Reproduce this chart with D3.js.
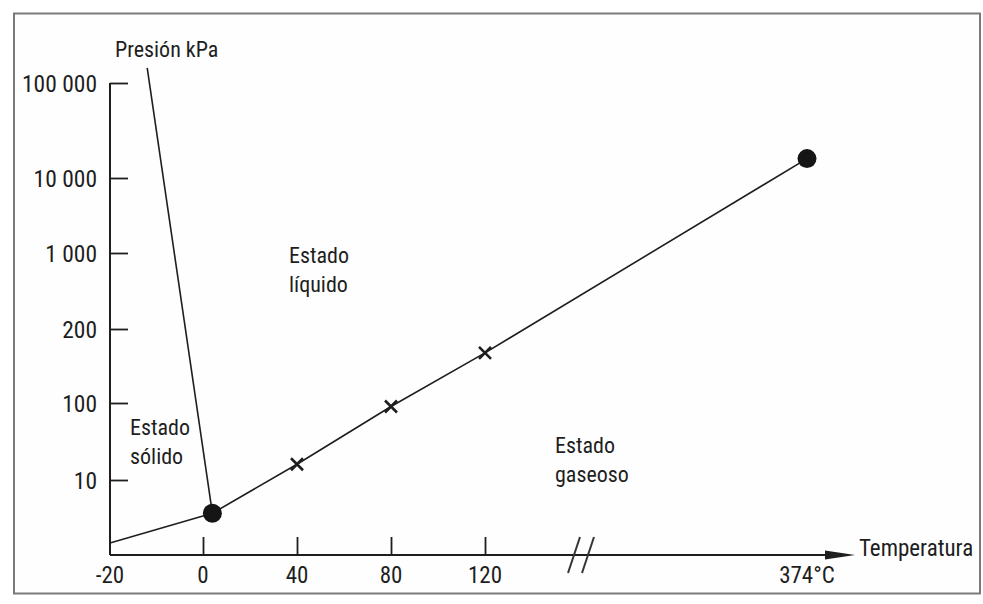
<!DOCTYPE html>
<html>
<head>
<meta charset="utf-8">
<script src="https://cdn.jsdelivr.net/npm/d3@7"></script>
<style>
  html, body { margin: 0; padding: 0; background: #fff; }
  svg { display: block; }
  text { font-family: "Liberation Sans Narrow", "Arial Narrow", "Roboto Condensed", "Open Sans", sans-serif; fill: #1e1e1e; }
</style>
</head>
<body>
<svg id="chart" width="983" height="604"></svg>
<script>
// ---- data ----
const xTicks = [-20, 0, 40, 80, 120, 374];
const xTickLabels = ["-20", "0", "40", "80", "120", "374°C"];
const yTicks = [10, 100, 200, 1000, 10000, 100000];
const yTickLabels = ["10", "100", "200", "1 000", "10 000", "100 000"];

// sublimation curve (solid–gas)
const sublimationT = [-20, 4];
const sublimationP = [1.45, 3.6];
// fusion curve (solid–liquid)
const fusionT = [-12, 4];
const fusionP = [144000, 3.6];
// vaporization curve (liquid–gas)
const vaporT = [4, 40, 80, 120, 374];
const vaporP = [3.6, 16, 90, 160, 16000];
// measured points (crosses)
const crossT = [40, 80, 120];
const crossP = [16, 90, 160];
// special points (triple point, critical point)
const dotT = [4, 374];
const dotP = [3.6, 16000];

const regionLabels = [
  ["Estado", "líquido"],
  ["Estado", "sólido"],
  ["Estado", "gaseoso"]
];

// ---- scales (broken, non-uniform axes as in the original) ----
const x = d3.scaleLinear()
  .domain([-20, 0, 40, 80, 120, 374])
  .range([110, 203, 297, 391, 485, 807]);
const yLog = d3.scaleLinear()
  .domain([0, 1, 2, Math.log10(200), 3, 4, 5])
  .range([555, 480, 403, 329, 253, 178, 83]);
const y = p => yLog(Math.log10(p));

const svg = d3.select("#chart");
const ink = "#1e1e1e";

// frame
svg.append("rect")
  .attr("x", 14).attr("y", 13.5).attr("width", 966).attr("height", 580)
  .attr("fill", "#fefefe").attr("stroke", "#7a7a7a").attr("stroke-width", 2);

// ---- axes ----
const x0 = x(-20), yBase = yLog(0), yTop = y(100000);

// y axis
const yAxis = d3.axisRight(yLog)
  .tickValues(yTicks.map(v => Math.log10(v)))
  .tickFormat((d, i) => yTickLabels[i])
  .tickSize(18)
  .tickSizeOuter(0);
const gy = svg.append("g").attr("transform", `translate(${x0},0)`).call(yAxis);
gy.select(".domain").remove();
gy.selectAll(".tick line").attr("stroke", ink).attr("stroke-width", 1.8);
gy.selectAll(".tick text")
  .attr("x", -13).attr("text-anchor", "end").attr("dy", "0.35em")
  .style("font-size", "23.5px");
svg.append("line")
  .attr("x1", x0).attr("x2", x0).attr("y1", yTop).attr("y2", yBase)
  .attr("stroke", ink).attr("stroke-width", 2);

// x axis
const xAxis = d3.axisTop(x)
  .tickValues(xTicks.slice(1, 5))
  .tickFormat("")
  .tickSize(18)
  .tickSizeOuter(0);
const gx = svg.append("g").attr("transform", `translate(0,${yBase})`).call(xAxis);
gx.select(".domain").remove();
gx.selectAll(".tick line").attr("stroke", ink).attr("stroke-width", 1.8);

const arrowEnd = 855;
svg.append("line")
  .attr("x1", x0).attr("x2", arrowEnd - 20).attr("y1", yBase).attr("y2", yBase)
  .attr("stroke", ink).attr("stroke-width", 2);
svg.append("path")
  .attr("d", `M${arrowEnd},${yBase} L${arrowEnd - 30},${yBase - 4.5} L${arrowEnd - 30},${yBase + 4.5} Z`)
  .attr("fill", ink);

// x tick labels
svg.append("g").selectAll("text")
  .data(xTicks)
  .join("text")
  .attr("x", d => x(d))
  .attr("y", yBase + 28)
  .attr("text-anchor", "middle")
  .style("font-size", "23px")
  .text((d, i) => xTickLabels[i]);

// axis break marks
const xb = 574;
[0, 14].forEach(off => {
  svg.append("line")
    .attr("x1", xb + off - 6).attr("y1", yBase + 18)
    .attr("x2", xb + off + 6).attr("y2", yBase - 18)
    .attr("stroke", "#333").attr("stroke-width", 2);
});

// axis titles
svg.append("text").attr("x", 115).attr("y", 57)
  .style("font-size", "22px").text("Presión kPa");
svg.append("text").attr("x", 859).attr("y", 556)
  .style("font-size", "23px").text("Temperatura");

// ---- curves ----
const line = d3.line().x(d => x(d[0])).y(d => y(d[1]));
const curves = [
  d3.zip(sublimationT, sublimationP),
  d3.zip(fusionT, fusionP),
  d3.zip(vaporT, vaporP)
];
svg.append("g").selectAll("path")
  .data(curves)
  .join("path")
  .attr("d", line)
  .attr("fill", "none")
  .attr("stroke", ink)
  .attr("stroke-width", 1.6);

// crosses
const cr = 6;
svg.append("g").selectAll("path")
  .data(d3.zip(crossT, crossP))
  .join("path")
  .attr("d", d => {
    const cx = x(d[0]), cy = y(d[1]);
    return `M${cx - cr},${cy - cr}L${cx + cr},${cy + cr}M${cx - cr},${cy + cr}L${cx + cr},${cy - cr}`;
  })
  .attr("stroke", ink).attr("stroke-width", 2.6).attr("fill", "none");

// dots
svg.append("g").selectAll("circle")
  .data(d3.zip(dotT, dotP))
  .join("circle")
  .attr("cx", d => x(d[0])).attr("cy", d => y(d[1]))
  .attr("r", 9.5).attr("fill", "#151515");

// region labels
const labelPos = [[289, 263], [130, 435], [555, 453]];
regionLabels.forEach((lines, i) => {
  const t = svg.append("text")
    .attr("x", labelPos[i][0]).attr("y", labelPos[i][1])
    .style("font-size", "22px");
  lines.forEach((s, j) => {
    t.append("tspan").attr("x", labelPos[i][0]).attr("dy", j === 0 ? 0 : 29).text(s);
  });
});
</script>
</body>
</html>
